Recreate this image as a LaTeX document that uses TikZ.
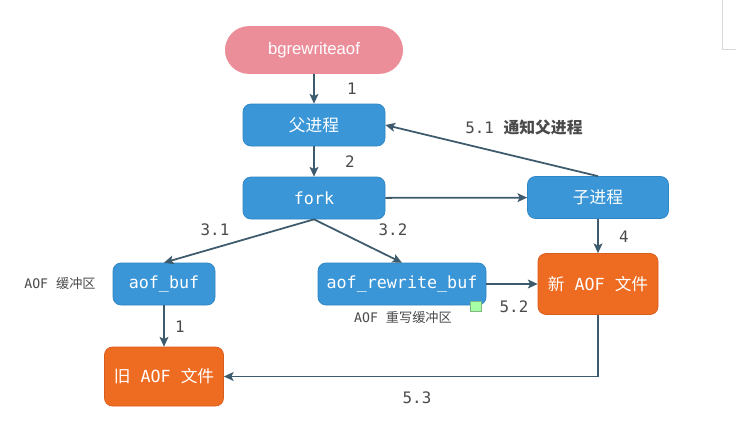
\documentclass[tikz,border=0pt]{standalone}
\usepackage{fontspec}
\setmainfont{Liberation Sans}
\setmonofont{DejaVu Sans Mono}
\newfontfamily\cjk{Noto Sans CJK SC}
\usepackage{xcolor}
\usetikzlibrary{arrows,calc,shapes.misc,arrows.meta}
\definecolor{bluebox}{HTML}{3A96D7}
\definecolor{blueedge}{HTML}{2E86C5}
\definecolor{orangebox}{HTML}{EE6B22}
\definecolor{orangeedge}{HTML}{DA5C1A}
\definecolor{pinkbox}{HTML}{EC8E9A}
\definecolor{linecol}{HTML}{3E5B6D}
\definecolor{labelcol}{HTML}{4A4A4A}

\begin{document}
\begin{tikzpicture}[
        pill/.style={rounded rectangle,fill=pinkbox,draw=pinkbox,text=white,
            font=\fontsize{9.5}{11}\selectfont,minimum width=3.78cm,minimum height=0.94cm},
        bluebox/.style={rectangle,rounded corners=4.5pt,fill=bluebox,draw=blueedge,text=white,
            font=\ttfamily\fontsize{9.5}{11}\selectfont,minimum height=0.84cm,inner sep=0pt},
        orangebox/.style={rectangle,rounded corners=4.5pt,fill=orangebox,draw=orangeedge,text=white,
            font=\ttfamily\fontsize{9.5}{11}\selectfont,inner sep=0pt},
        steplabel/.style={text=labelcol,font=\ttfamily\fontsize{9}{11}\selectfont},
        note/.style={text=labelcol,font=\ttfamily\fontsize{7.5}{9}\selectfont}
    ]
            \fill[white] (0,0) rectangle (14.72,-8.42);
            \useasboundingbox (0,0) rectangle (14.72,-8.42);
            \draw[black!15] (14.44,0) -- (14.44,-0.98) -- (14.72,-0.98);
            \node (BG) at (6.28,-1.00) [pill] {bgrewriteaof};
            \node (FP) at (6.28,-2.50) [bluebox,minimum width=2.84cm] {\cjk 父进程};
            \node (FK) at (6.28,-3.96) [bluebox,minimum width=2.84cm] {fork};
            \node (CP) at (11.96,-3.95) [bluebox,minimum width=2.82cm] {\cjk 子进程};
            \node (AB) at (3.28,-5.68) [bluebox,minimum width=2.04cm] {aof\_buf};
            \node (RB) at (8.04,-5.68) [bluebox,minimum width=3.36cm] {aof\_rewrite\_buf};
            \node (NA) at (11.96,-5.68) [orangebox,minimum width=2.40cm,minimum height=1.22cm] {{\cjk 新} AOF {\cjk 文件}};
            \node (OA) at (3.28,-7.53) [orangebox,minimum width=2.38cm,minimum height=1.18cm] {{\cjk 旧} AOF {\cjk 文件}};
            \begin{scope}[->,>={Stealth[length=5.5pt,width=5pt,inset=1.2pt]},draw=linecol,line width=1pt]
                \draw (BG) -- (FP);
                \draw (FP) -- (FK);
                \draw (FK) -- (CP);
                \draw (CP.north) -- (FP.east);
                \draw (FK.south) -- (AB.north);
                \draw (FK.south) -- (RB.north);
                \draw (CP) -- (NA);
                \draw (RB) -- (NA);
                \draw (AB) -- (OA);
                \draw (NA.south) |- (OA.east);
            \end{scope}
            \node at (7.04,-1.78) [steplabel] {1};
            \node at (7.00,-3.24) [steplabel] {2};
            \node at (10.48,-2.54) [steplabel] {5.1 {\cjk\bfseries 通知父进程}};
            \node at (4.30,-4.60) [steplabel] {3.1};
            \node at (7.86,-4.60) [steplabel] {3.2};
            \node at (12.48,-4.74) [steplabel] {4};
            \node at (3.60,-6.54) [steplabel] {1};
            \node at (10.28,-6.14) [steplabel] {5.2};
            \node at (8.34,-7.96) [steplabel] {5.3};
            \node at (1.20,-5.68) [note] {AOF {\cjk 缓冲区}};
            \node at (8.06,-6.36) [note] {AOF {\cjk 重写缓冲区}};
            \draw[green!45!black!50,fill=green!35] (9.40,-6.02) rectangle (9.62,-6.22);
\end{tikzpicture}
\end{document}
